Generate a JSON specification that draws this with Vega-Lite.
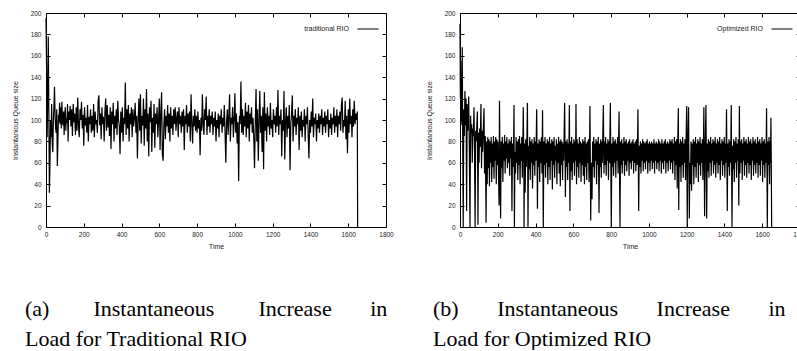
{
"$schema": "https://vega.github.io/schema/vega-lite/v6.json",
"padding": {"left": 10, "top": 9, "right": 0, "bottom": 0},
"bounds": "flush",
"spacing": 74,
"config": {
  "font": "Liberation Sans",
  "view": {"stroke": "black", "strokeWidth": 1},
  "axis": {"domain": false, "grid": false, "tickSize": -4, "tickColor": "black", "tickWidth": 1, "labelFontSize": 6.5, "labelColor": "#222", "labelFont": "Liberation Sans", "labelFlush": false, "labelOverlap": false, "format": "d", "titleFont": "Liberation Sans", "titleFontSize": 7, "titleFontWeight": "normal", "titleColor": "#222"},
  "legend": {"orient": "top-right", "offset": 5, "padding": 0, "labelFontSize": 7, "labelFont": "Liberation Sans", "labelColor": "#222", "labelAlign": "right", "labelOffset": -30, "symbolType": "stroke", "symbolSize": 441, "symbolStrokeWidth": 1}
},
"datasets": {
"a": [{"t":0,"q":195},{"t":3,"q":150},{"t":6,"q":84},{"t":9,"q":120},{"t":12,"q":178},{"t":15,"q":110},{"t":18,"q":32},{"t":21,"q":60},{"t":24,"q":100},{"t":27,"q":84},{"t":30,"q":115},{"t":33,"q":78},{"t":36,"q":70},{"t":39,"q":98},{"t":42,"q":112},{"t":45,"q":131},{"t":48,"q":105},{"t":51,"q":92},{"t":54,"q":88},{"t":57,"q":110},{"t":60,"q":57},{"t":63,"q":80},{"t":66,"q":105},{"t":69,"q":98},{"t":72,"q":116},{"t":75,"q":96},{"t":78,"q":112},{"t":81,"q":92},{"t":84,"q":117},{"t":87,"q":100},{"t":90,"q":95},{"t":93,"q":108},{"t":96,"q":86},{"t":99,"q":104},{"t":102,"q":112},{"t":105,"q":90},{"t":108,"q":102},{"t":111,"q":97},{"t":114,"q":115},{"t":117,"q":80},{"t":120,"q":108},{"t":124,"q":100},{"t":128,"q":113},{"t":132,"q":94},{"t":136,"q":110},{"t":140,"q":85},{"t":144,"q":115},{"t":148,"q":98},{"t":152,"q":106},{"t":156,"q":86},{"t":160,"q":112},{"t":164,"q":90},{"t":168,"q":121},{"t":172,"q":95},{"t":176,"q":84},{"t":180,"q":110},{"t":184,"q":100},{"t":188,"q":117},{"t":192,"q":92},{"t":196,"q":105},{"t":200,"q":76},{"t":204,"q":112},{"t":208,"q":95},{"t":212,"q":102},{"t":216,"q":88},{"t":220,"q":114},{"t":224,"q":80},{"t":228,"q":103},{"t":232,"q":96},{"t":236,"q":110},{"t":240,"q":88},{"t":244,"q":104},{"t":248,"q":90},{"t":252,"q":115},{"t":256,"q":84},{"t":260,"q":108},{"t":264,"q":96},{"t":268,"q":100},{"t":272,"q":88},{"t":276,"q":118},{"t":280,"q":123},{"t":284,"q":95},{"t":288,"q":106},{"t":292,"q":82},{"t":296,"q":112},{"t":300,"q":96},{"t":304,"q":103},{"t":308,"q":80},{"t":312,"q":108},{"t":316,"q":120},{"t":320,"q":90},{"t":324,"q":114},{"t":328,"q":93},{"t":332,"q":105},{"t":336,"q":85},{"t":340,"q":112},{"t":344,"q":73},{"t":348,"q":108},{"t":352,"q":96},{"t":356,"q":116},{"t":360,"q":80},{"t":364,"q":104},{"t":368,"q":92},{"t":372,"q":110},{"t":376,"q":86},{"t":380,"q":118},{"t":384,"q":100},{"t":388,"q":95},{"t":392,"q":68},{"t":396,"q":108},{"t":400,"q":88},{"t":404,"q":112},{"t":408,"q":80},{"t":412,"q":102},{"t":416,"q":96},{"t":420,"q":135},{"t":424,"q":86},{"t":428,"q":110},{"t":432,"q":92},{"t":436,"q":114},{"t":440,"q":80},{"t":444,"q":106},{"t":448,"q":96},{"t":452,"q":112},{"t":456,"q":84},{"t":460,"q":110},{"t":464,"q":94},{"t":468,"q":102},{"t":472,"q":116},{"t":476,"q":88},{"t":480,"q":104},{"t":484,"q":64},{"t":488,"q":100},{"t":492,"q":120},{"t":496,"q":90},{"t":500,"q":124},{"t":504,"q":78},{"t":508,"q":104},{"t":512,"q":95},{"t":516,"q":120},{"t":520,"q":76},{"t":524,"q":110},{"t":528,"q":92},{"t":532,"q":129},{"t":536,"q":80},{"t":540,"q":106},{"t":544,"q":66},{"t":548,"q":112},{"t":552,"q":98},{"t":556,"q":118},{"t":560,"q":70},{"t":564,"q":102},{"t":568,"q":88},{"t":572,"q":115},{"t":576,"q":74},{"t":580,"q":106},{"t":584,"q":96},{"t":588,"q":112},{"t":592,"q":84},{"t":596,"q":100},{"t":600,"q":120},{"t":604,"q":72},{"t":608,"q":108},{"t":612,"q":126},{"t":616,"q":68},{"t":620,"q":62},{"t":624,"q":96},{"t":628,"q":110},{"t":632,"q":82},{"t":636,"q":104},{"t":640,"q":94},{"t":644,"q":114},{"t":648,"q":88},{"t":652,"q":106},{"t":656,"q":80},{"t":660,"q":112},{"t":664,"q":92},{"t":668,"q":104},{"t":672,"q":86},{"t":676,"q":110},{"t":680,"q":96},{"t":684,"q":112},{"t":688,"q":90},{"t":692,"q":102},{"t":696,"q":108},{"t":700,"q":84},{"t":704,"q":112},{"t":708,"q":96},{"t":712,"q":104},{"t":716,"q":88},{"t":720,"q":108},{"t":724,"q":94},{"t":728,"q":110},{"t":732,"q":72},{"t":736,"q":104},{"t":740,"q":96},{"t":744,"q":114},{"t":748,"q":88},{"t":752,"q":106},{"t":756,"q":94},{"t":760,"q":108},{"t":764,"q":80},{"t":768,"q":124},{"t":772,"q":98},{"t":776,"q":78},{"t":780,"q":104},{"t":784,"q":94},{"t":788,"q":110},{"t":792,"q":90},{"t":796,"q":104},{"t":800,"q":88},{"t":804,"q":108},{"t":808,"q":92},{"t":812,"q":100},{"t":816,"q":67},{"t":820,"q":102},{"t":824,"q":90},{"t":828,"q":124},{"t":832,"q":96},{"t":836,"q":86},{"t":840,"q":110},{"t":844,"q":100},{"t":848,"q":122},{"t":852,"q":86},{"t":856,"q":104},{"t":860,"q":94},{"t":864,"q":110},{"t":868,"q":88},{"t":872,"q":104},{"t":876,"q":96},{"t":880,"q":108},{"t":884,"q":86},{"t":888,"q":102},{"t":892,"q":94},{"t":896,"q":108},{"t":900,"q":80},{"t":904,"q":100},{"t":908,"q":92},{"t":912,"q":106},{"t":916,"q":84},{"t":920,"q":104},{"t":924,"q":96},{"t":928,"q":110},{"t":932,"q":88},{"t":936,"q":102},{"t":940,"q":94},{"t":944,"q":114},{"t":948,"q":88},{"t":952,"q":60},{"t":956,"q":98},{"t":960,"q":110},{"t":964,"q":86},{"t":968,"q":104},{"t":972,"q":124},{"t":976,"q":80},{"t":980,"q":102},{"t":984,"q":96},{"t":988,"q":112},{"t":992,"q":84},{"t":996,"q":100},{"t":1000,"q":125},{"t":1004,"q":88},{"t":1008,"q":106},{"t":1012,"q":78},{"t":1016,"q":98},{"t":1020,"q":43},{"t":1024,"q":104},{"t":1028,"q":96},{"t":1032,"q":136},{"t":1036,"q":88},{"t":1040,"q":110},{"t":1044,"q":86},{"t":1048,"q":104},{"t":1052,"q":94},{"t":1056,"q":116},{"t":1060,"q":84},{"t":1064,"q":108},{"t":1068,"q":92},{"t":1072,"q":114},{"t":1076,"q":80},{"t":1080,"q":106},{"t":1084,"q":96},{"t":1088,"q":112},{"t":1092,"q":88},{"t":1096,"q":102},{"t":1100,"q":84},{"t":1104,"q":55},{"t":1108,"q":98},{"t":1112,"q":129},{"t":1116,"q":80},{"t":1120,"q":110},{"t":1124,"q":62},{"t":1128,"q":100},{"t":1132,"q":127},{"t":1136,"q":88},{"t":1140,"q":104},{"t":1144,"q":70},{"t":1148,"q":112},{"t":1152,"q":54},{"t":1156,"q":126},{"t":1160,"q":90},{"t":1164,"q":106},{"t":1168,"q":80},{"t":1172,"q":112},{"t":1176,"q":94},{"t":1180,"q":104},{"t":1184,"q":86},{"t":1188,"q":116},{"t":1192,"q":92},{"t":1196,"q":100},{"t":1200,"q":84},{"t":1204,"q":110},{"t":1208,"q":96},{"t":1212,"q":104},{"t":1216,"q":88},{"t":1220,"q":112},{"t":1224,"q":94},{"t":1228,"q":128},{"t":1232,"q":86},{"t":1236,"q":104},{"t":1240,"q":96},{"t":1244,"q":110},{"t":1248,"q":66},{"t":1252,"q":100},{"t":1256,"q":90},{"t":1260,"q":127},{"t":1264,"q":63},{"t":1268,"q":98},{"t":1272,"q":112},{"t":1276,"q":84},{"t":1280,"q":104},{"t":1284,"q":92},{"t":1288,"q":114},{"t":1292,"q":53},{"t":1296,"q":96},{"t":1300,"q":106},{"t":1304,"q":123},{"t":1308,"q":80},{"t":1312,"q":104},{"t":1316,"q":94},{"t":1320,"q":110},{"t":1324,"q":86},{"t":1328,"q":102},{"t":1332,"q":96},{"t":1336,"q":112},{"t":1340,"q":72},{"t":1344,"q":104},{"t":1348,"q":90},{"t":1352,"q":108},{"t":1356,"q":84},{"t":1360,"q":100},{"t":1364,"q":94},{"t":1368,"q":110},{"t":1372,"q":80},{"t":1376,"q":104},{"t":1380,"q":96},{"t":1384,"q":112},{"t":1388,"q":86},{"t":1392,"q":64},{"t":1396,"q":100},{"t":1400,"q":88},{"t":1404,"q":108},{"t":1408,"q":94},{"t":1412,"q":120},{"t":1416,"q":84},{"t":1420,"q":102},{"t":1424,"q":96},{"t":1428,"q":106},{"t":1432,"q":80},{"t":1436,"q":100},{"t":1440,"q":92},{"t":1444,"q":106},{"t":1448,"q":88},{"t":1452,"q":104},{"t":1456,"q":96},{"t":1460,"q":110},{"t":1464,"q":86},{"t":1468,"q":102},{"t":1472,"q":94},{"t":1476,"q":108},{"t":1480,"q":88},{"t":1484,"q":104},{"t":1488,"q":96},{"t":1492,"q":110},{"t":1496,"q":84},{"t":1500,"q":100},{"t":1504,"q":92},{"t":1508,"q":106},{"t":1512,"q":86},{"t":1516,"q":102},{"t":1520,"q":96},{"t":1524,"q":112},{"t":1528,"q":88},{"t":1532,"q":104},{"t":1536,"q":94},{"t":1540,"q":110},{"t":1544,"q":84},{"t":1548,"q":104},{"t":1552,"q":96},{"t":1556,"q":108},{"t":1560,"q":90},{"t":1564,"q":114},{"t":1568,"q":121},{"t":1572,"q":88},{"t":1576,"q":100},{"t":1580,"q":94},{"t":1584,"q":118},{"t":1588,"q":82},{"t":1592,"q":104},{"t":1596,"q":69},{"t":1600,"q":110},{"t":1604,"q":88},{"t":1608,"q":120},{"t":1612,"q":96},{"t":1616,"q":104},{"t":1620,"q":84},{"t":1624,"q":110},{"t":1628,"q":94},{"t":1632,"q":118},{"t":1636,"q":96},{"t":1640,"q":106},{"t":1644,"q":100},{"t":1648,"q":108},{"t":1650,"q":0}],
"b": [{"t":0,"q":190},{"t":2,"q":120},{"t":4,"q":155},{"t":6,"q":95},{"t":8,"q":140},{"t":10,"q":100},{"t":12,"q":168},{"t":14,"q":90},{"t":17,"q":0},{"t":20,"q":110},{"t":23,"q":85},{"t":26,"q":127},{"t":29,"q":95},{"t":32,"q":120},{"t":35,"q":15},{"t":38,"q":115},{"t":41,"q":90},{"t":44,"q":100},{"t":46,"q":122},{"t":49,"q":80},{"t":53,"q":0},{"t":56,"q":104},{"t":59,"q":88},{"t":62,"q":96},{"t":65,"q":60},{"t":68,"q":92},{"t":71,"q":85},{"t":74,"q":112},{"t":77,"q":70},{"t":80,"q":0},{"t":83,"q":90},{"t":86,"q":80},{"t":89,"q":95},{"t":92,"q":108},{"t":95,"q":2},{"t":98,"q":88},{"t":101,"q":60},{"t":104,"q":92},{"t":107,"q":75},{"t":111,"q":115},{"t":114,"q":55},{"t":117,"q":90},{"t":120,"q":70},{"t":123,"q":88},{"t":127,"q":111},{"t":130,"q":50},{"t":134,"q":85},{"t":138,"q":4},{"t":141,"q":80},{"t":144,"q":40},{"t":147,"q":84},{"t":150,"q":55},{"t":153,"q":82},{"t":156,"q":38},{"t":159,"q":80},{"t":162,"q":60},{"t":165,"q":84},{"t":168,"q":42},{"t":171,"q":78},{"t":174,"q":56},{"t":177,"q":85},{"t":180,"q":45},{"t":183,"q":80},{"t":186,"q":62},{"t":189,"q":84},{"t":192,"q":40},{"t":195,"q":82},{"t":198,"q":58},{"t":201,"q":80},{"t":204,"q":48},{"t":207,"q":20},{"t":209,"q":118},{"t":212,"q":60},{"t":215,"q":8},{"t":218,"q":80},{"t":221,"q":55},{"t":224,"q":84},{"t":227,"q":42},{"t":230,"q":78},{"t":233,"q":62},{"t":236,"q":86},{"t":239,"q":50},{"t":242,"q":80},{"t":245,"q":64},{"t":248,"q":84},{"t":251,"q":55},{"t":254,"q":78},{"t":257,"q":60},{"t":260,"q":82},{"t":263,"q":48},{"t":266,"q":80},{"t":269,"q":64},{"t":272,"q":84},{"t":275,"q":15},{"t":278,"q":78},{"t":281,"q":56},{"t":284,"q":80},{"t":286,"q":114},{"t":288,"q":0},{"t":291,"q":70},{"t":294,"q":50},{"t":297,"q":84},{"t":300,"q":60},{"t":303,"q":80},{"t":306,"q":44},{"t":309,"q":82},{"t":312,"q":58},{"t":315,"q":85},{"t":318,"q":40},{"t":321,"q":78},{"t":324,"q":62},{"t":327,"q":84},{"t":330,"q":46},{"t":333,"q":80},{"t":335,"q":112},{"t":338,"q":60},{"t":339,"q":0},{"t":342,"q":78},{"t":345,"q":32},{"t":348,"q":82},{"t":351,"q":56},{"t":354,"q":80},{"t":357,"q":116},{"t":360,"q":0},{"t":363,"q":76},{"t":366,"q":54},{"t":369,"q":84},{"t":372,"q":44},{"t":375,"q":80},{"t":378,"q":60},{"t":381,"q":82},{"t":384,"q":36},{"t":387,"q":78},{"t":390,"q":58},{"t":393,"q":84},{"t":396,"q":48},{"t":399,"q":80},{"t":402,"q":62},{"t":406,"q":110},{"t":410,"q":17},{"t":413,"q":78},{"t":416,"q":56},{"t":419,"q":82},{"t":422,"q":42},{"t":425,"q":80},{"t":428,"q":60},{"t":431,"q":84},{"t":434,"q":50},{"t":437,"q":109},{"t":441,"q":0},{"t":444,"q":80},{"t":447,"q":58},{"t":450,"q":84},{"t":453,"q":46},{"t":456,"q":78},{"t":459,"q":60},{"t":462,"q":82},{"t":465,"q":40},{"t":468,"q":80},{"t":471,"q":56},{"t":474,"q":84},{"t":477,"q":44},{"t":480,"q":78},{"t":483,"q":62},{"t":486,"q":82},{"t":489,"q":35},{"t":492,"q":80},{"t":495,"q":58},{"t":498,"q":84},{"t":501,"q":46},{"t":504,"q":76},{"t":507,"q":62},{"t":510,"q":82},{"t":513,"q":40},{"t":516,"q":78},{"t":519,"q":60},{"t":522,"q":84},{"t":525,"q":50},{"t":528,"q":80},{"t":531,"q":38},{"t":534,"q":82},{"t":537,"q":58},{"t":540,"q":80},{"t":543,"q":44},{"t":546,"q":78},{"t":549,"q":62},{"t":551,"q":84},{"t":554,"q":116},{"t":558,"q":28},{"t":561,"q":80},{"t":564,"q":56},{"t":567,"q":82},{"t":570,"q":44},{"t":573,"q":78},{"t":576,"q":60},{"t":579,"q":114},{"t":582,"q":15},{"t":585,"q":80},{"t":588,"q":52},{"t":591,"q":84},{"t":594,"q":44},{"t":597,"q":78},{"t":600,"q":60},{"t":603,"q":82},{"t":606,"q":48},{"t":609,"q":80},{"t":612,"q":62},{"t":614,"q":115},{"t":617,"q":40},{"t":620,"q":82},{"t":623,"q":56},{"t":626,"q":78},{"t":629,"q":46},{"t":632,"q":84},{"t":635,"q":60},{"t":638,"q":80},{"t":641,"q":42},{"t":644,"q":78},{"t":647,"q":58},{"t":650,"q":82},{"t":653,"q":48},{"t":656,"q":80},{"t":659,"q":40},{"t":662,"q":84},{"t":665,"q":56},{"t":668,"q":78},{"t":671,"q":44},{"t":674,"q":80},{"t":677,"q":60},{"t":680,"q":82},{"t":683,"q":42},{"t":686,"q":78},{"t":688,"q":113},{"t":692,"q":6},{"t":695,"q":60},{"t":699,"q":26},{"t":702,"q":80},{"t":705,"q":56},{"t":708,"q":84},{"t":711,"q":46},{"t":714,"q":78},{"t":717,"q":62},{"t":720,"q":82},{"t":723,"q":40},{"t":726,"q":80},{"t":729,"q":58},{"t":732,"q":84},{"t":736,"q":13},{"t":739,"q":78},{"t":742,"q":56},{"t":745,"q":82},{"t":748,"q":46},{"t":751,"q":80},{"t":754,"q":60},{"t":756,"q":84},{"t":759,"q":114},{"t":762,"q":50},{"t":765,"q":80},{"t":768,"q":58},{"t":771,"q":84},{"t":774,"q":48},{"t":777,"q":78},{"t":780,"q":62},{"t":783,"q":82},{"t":786,"q":44},{"t":789,"q":80},{"t":792,"q":60},{"t":796,"q":116},{"t":801,"q":0},{"t":804,"q":78},{"t":807,"q":56},{"t":810,"q":84},{"t":813,"q":48},{"t":816,"q":80},{"t":819,"q":60},{"t":822,"q":82},{"t":825,"q":46},{"t":828,"q":78},{"t":831,"q":62},{"t":834,"q":84},{"t":837,"q":50},{"t":842,"q":108},{"t":847,"q":0},{"t":850,"q":80},{"t":853,"q":58},{"t":856,"q":82},{"t":859,"q":50},{"t":862,"q":78},{"t":865,"q":62},{"t":868,"q":84},{"t":871,"q":48},{"t":874,"q":80},{"t":877,"q":58},{"t":880,"q":82},{"t":883,"q":52},{"t":886,"q":78},{"t":889,"q":62},{"t":892,"q":80},{"t":895,"q":48},{"t":898,"q":82},{"t":901,"q":60},{"t":904,"q":78},{"t":907,"q":54},{"t":910,"q":80},{"t":913,"q":62},{"t":916,"q":82},{"t":919,"q":50},{"t":922,"q":78},{"t":925,"q":60},{"t":928,"q":80},{"t":931,"q":52},{"t":934,"q":82},{"t":937,"q":58},{"t":940,"q":78},{"t":942,"q":110},{"t":946,"q":15},{"t":949,"q":76},{"t":952,"q":56},{"t":955,"q":80},{"t":958,"q":50},{"t":961,"q":78},{"t":964,"q":62},{"t":967,"q":82},{"t":970,"q":52},{"t":973,"q":80},{"t":976,"q":60},{"t":979,"q":78},{"t":982,"q":54},{"t":985,"q":80},{"t":988,"q":62},{"t":991,"q":82},{"t":994,"q":50},{"t":997,"q":78},{"t":1000,"q":60},{"t":1003,"q":80},{"t":1006,"q":52},{"t":1009,"q":78},{"t":1012,"q":62},{"t":1015,"q":80},{"t":1018,"q":54},{"t":1021,"q":78},{"t":1024,"q":60},{"t":1027,"q":82},{"t":1030,"q":50},{"t":1033,"q":78},{"t":1036,"q":62},{"t":1039,"q":80},{"t":1042,"q":54},{"t":1045,"q":78},{"t":1048,"q":60},{"t":1051,"q":82},{"t":1054,"q":52},{"t":1057,"q":80},{"t":1060,"q":62},{"t":1063,"q":78},{"t":1066,"q":50},{"t":1069,"q":82},{"t":1072,"q":60},{"t":1075,"q":78},{"t":1078,"q":54},{"t":1081,"q":80},{"t":1084,"q":62},{"t":1087,"q":82},{"t":1090,"q":50},{"t":1093,"q":78},{"t":1096,"q":60},{"t":1099,"q":80},{"t":1102,"q":52},{"t":1105,"q":78},{"t":1108,"q":62},{"t":1111,"q":82},{"t":1114,"q":54},{"t":1117,"q":80},{"t":1120,"q":60},{"t":1123,"q":82},{"t":1126,"q":50},{"t":1129,"q":78},{"t":1132,"q":62},{"t":1135,"q":84},{"t":1138,"q":44},{"t":1141,"q":80},{"t":1144,"q":58},{"t":1147,"q":82},{"t":1150,"q":36},{"t":1153,"q":80},{"t":1156,"q":111},{"t":1158,"q":16},{"t":1161,"q":78},{"t":1164,"q":56},{"t":1167,"q":82},{"t":1170,"q":42},{"t":1173,"q":80},{"t":1176,"q":58},{"t":1179,"q":84},{"t":1182,"q":46},{"t":1185,"q":78},{"t":1188,"q":60},{"t":1191,"q":82},{"t":1194,"q":44},{"t":1197,"q":80},{"t":1200,"q":113},{"t":1203,"q":0},{"t":1206,"q":78},{"t":1210,"q":112},{"t":1214,"q":8},{"t":1217,"q":60},{"t":1220,"q":40},{"t":1223,"q":80},{"t":1226,"q":34},{"t":1229,"q":78},{"t":1232,"q":58},{"t":1235,"q":82},{"t":1238,"q":40},{"t":1241,"q":80},{"t":1244,"q":56},{"t":1247,"q":84},{"t":1250,"q":46},{"t":1253,"q":78},{"t":1256,"q":60},{"t":1259,"q":82},{"t":1262,"q":42},{"t":1265,"q":80},{"t":1268,"q":58},{"t":1271,"q":84},{"t":1274,"q":48},{"t":1277,"q":78},{"t":1280,"q":60},{"t":1283,"q":82},{"t":1286,"q":44},{"t":1289,"q":80},{"t":1291,"q":112},{"t":1295,"q":10},{"t":1298,"q":70},{"t":1302,"q":114},{"t":1306,"q":8},{"t":1309,"q":78},{"t":1312,"q":52},{"t":1315,"q":82},{"t":1318,"q":46},{"t":1321,"q":80},{"t":1324,"q":60},{"t":1327,"q":84},{"t":1330,"q":48},{"t":1333,"q":78},{"t":1336,"q":62},{"t":1339,"q":82},{"t":1342,"q":50},{"t":1345,"q":80},{"t":1348,"q":58},{"t":1351,"q":84},{"t":1354,"q":46},{"t":1357,"q":78},{"t":1360,"q":60},{"t":1363,"q":82},{"t":1366,"q":50},{"t":1369,"q":80},{"t":1372,"q":58},{"t":1375,"q":84},{"t":1378,"q":44},{"t":1381,"q":78},{"t":1384,"q":62},{"t":1387,"q":82},{"t":1390,"q":48},{"t":1393,"q":80},{"t":1396,"q":58},{"t":1399,"q":84},{"t":1402,"q":46},{"t":1405,"q":78},{"t":1408,"q":60},{"t":1411,"q":110},{"t":1415,"q":15},{"t":1418,"q":78},{"t":1421,"q":56},{"t":1424,"q":82},{"t":1427,"q":48},{"t":1430,"q":80},{"t":1433,"q":60},{"t":1436,"q":114},{"t":1440,"q":0},{"t":1443,"q":76},{"t":1446,"q":54},{"t":1449,"q":82},{"t":1452,"q":42},{"t":1455,"q":80},{"t":1458,"q":60},{"t":1461,"q":84},{"t":1464,"q":46},{"t":1467,"q":78},{"t":1470,"q":62},{"t":1473,"q":82},{"t":1476,"q":20},{"t":1479,"q":113},{"t":1482,"q":50},{"t":1485,"q":80},{"t":1488,"q":60},{"t":1491,"q":82},{"t":1494,"q":44},{"t":1497,"q":78},{"t":1500,"q":62},{"t":1503,"q":84},{"t":1506,"q":48},{"t":1509,"q":80},{"t":1512,"q":58},{"t":1515,"q":82},{"t":1518,"q":46},{"t":1521,"q":78},{"t":1524,"q":60},{"t":1527,"q":84},{"t":1530,"q":50},{"t":1533,"q":80},{"t":1536,"q":58},{"t":1539,"q":82},{"t":1542,"q":44},{"t":1545,"q":78},{"t":1548,"q":62},{"t":1551,"q":84},{"t":1554,"q":48},{"t":1557,"q":80},{"t":1560,"q":58},{"t":1563,"q":82},{"t":1566,"q":50},{"t":1569,"q":78},{"t":1572,"q":60},{"t":1575,"q":84},{"t":1578,"q":46},{"t":1581,"q":80},{"t":1584,"q":58},{"t":1587,"q":82},{"t":1590,"q":48},{"t":1593,"q":78},{"t":1596,"q":62},{"t":1599,"q":84},{"t":1602,"q":42},{"t":1605,"q":80},{"t":1608,"q":58},{"t":1611,"q":82},{"t":1614,"q":46},{"t":1617,"q":78},{"t":1620,"q":60},{"t":1623,"q":111},{"t":1627,"q":0},{"t":1630,"q":80},{"t":1633,"q":58},{"t":1636,"q":84},{"t":1639,"q":40},{"t":1642,"q":80},{"t":1644,"q":60},{"t":1646,"q":102},{"t":1648,"q":60},{"t":1650,"q":0}]
},
"hconcat": [
{
  "width": 340, "height": 214,
  "data": {"name": "a"},
  "title": {"text": ["(a)\u00a0\u00a0\u00a0\u00a0\u00a0\u00a0\u00a0\u00a0Instantaneous\u00a0\u00a0\u00a0\u00a0\u00a0\u00a0\u00a0\u00a0Increase\u00a0\u00a0\u00a0\u00a0\u00a0\u00a0\u00a0in", "Load for Traditional RIO"], "orient": "bottom", "anchor": "start", "frame": "group", "dx": -21, "offset": 49, "font": "Liberation Serif", "fontSize": 22, "fontWeight": "normal", "lineHeight": 30, "color": "black"},
  "layer": [
    {"mark": {"type": "line", "strokeWidth": 1.2},
     "encoding": {
       "x": {"field": "t", "type": "quantitative", "scale": {"domain": [0, 1800], "nice": false}, "axis": {"orient": "bottom", "title": "Time", "tickCount": 9, "labelPadding": 8, "titlePadding": 5}},
       "y": {"field": "q", "type": "quantitative", "scale": {"domain": [0, 200], "nice": false}, "axis": {"orient": "left", "title": "Instantanious Queue size", "tickCount": 10, "labelPadding": 9, "titlePadding": 12}},
       "color": {"datum": "traditional RIO", "type": "nominal", "scale": {"range": ["black"]}, "legend": {"title": null}}
     }},
    {"mark": {"type": "line", "opacity": 0},
     "encoding": {
       "x": {"field": "t", "type": "quantitative", "scale": {"domain": [0, 1800], "nice": false}, "axis": {"orient": "top", "title": null, "labels": false, "tickCount": 9}},
       "y": {"field": "q", "type": "quantitative", "scale": {"domain": [0, 200], "nice": false}, "axis": {"orient": "right", "title": null, "labels": false, "tickCount": 10}}
     }}
  ],
  "resolve": {"axis": {"x": "independent", "y": "independent"}}
},
{
  "width": 340, "height": 214,
  "data": {"name": "b"},
  "title": {"text": ["(b)\u00a0\u00a0\u00a0\u00a0\u00a0\u00a0\u00a0Instantaneous\u00a0\u00a0\u00a0\u00a0\u00a0\u00a0\u00a0Increase\u00a0\u00a0\u00a0\u00a0\u00a0\u00a0\u00a0in", "Load for Optimized RIO"], "orient": "bottom", "anchor": "start", "frame": "group", "dx": -27, "offset": 49, "font": "Liberation Serif", "fontSize": 22, "fontWeight": "normal", "lineHeight": 30, "color": "black"},
  "layer": [
    {"mark": {"type": "line", "strokeWidth": 1.2},
     "encoding": {
       "x": {"field": "t", "type": "quantitative", "scale": {"domain": [0, 1800], "nice": false}, "axis": {"orient": "bottom", "title": "Time", "tickCount": 9, "labelPadding": 8, "titlePadding": 5}},
       "y": {"field": "q", "type": "quantitative", "scale": {"domain": [0, 200], "nice": false}, "axis": {"orient": "left", "title": "Instantanious Queue size", "tickCount": 10, "labelPadding": 9, "titlePadding": 12}},
       "color": {"datum": "Optimized RIO", "type": "nominal", "scale": {"range": ["black"]}, "legend": {"title": null}}
     }},
    {"mark": {"type": "line", "opacity": 0},
     "encoding": {
       "x": {"field": "t", "type": "quantitative", "scale": {"domain": [0, 1800], "nice": false}, "axis": {"orient": "top", "title": null, "labels": false, "tickCount": 9}},
       "y": {"field": "q", "type": "quantitative", "scale": {"domain": [0, 200], "nice": false}, "axis": {"orient": "right", "title": null, "labels": false, "tickCount": 10}}
     }}
  ],
  "resolve": {"axis": {"x": "independent", "y": "independent"}}
}
],
"resolve": {"scale": {"color": "independent"}, "legend": {"color": "independent"}}
}
